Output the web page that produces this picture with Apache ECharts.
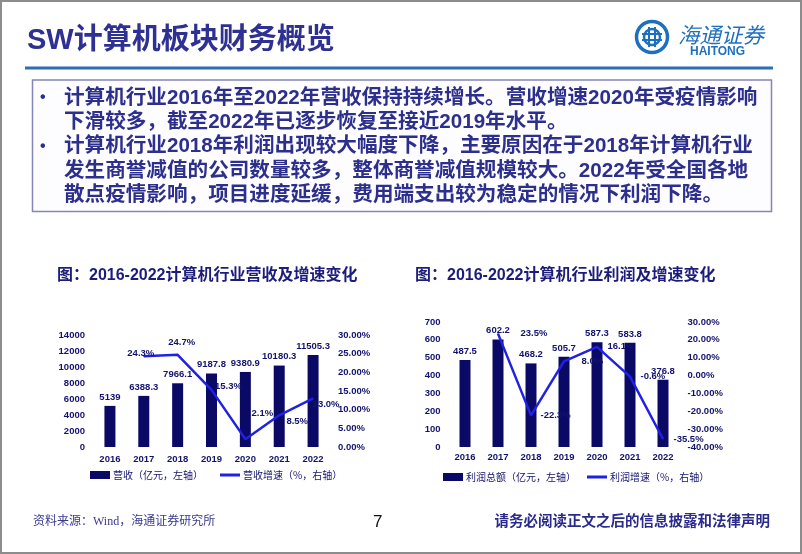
<!DOCTYPE html>
<html><head><meta charset="utf-8">
<script src="https://cdn.jsdelivr.net/npm/echarts@6/dist/echarts.min.js"></script>
<style>html,body{margin:0;padding:0;background:#fff}#c{width:802px;height:554px}</style>
</head><body><div id="c"></div>
<script>
// ---------- data ----------
const years = ['2016', '2017', '2018', '2019', '2020', '2021', '2022'];
const revenue = [5139, 6388.3, 7966.1, 9187.8, 9380.9, 10180.3, 11505.3];
const revenueGrowth = [null, 24.3, 24.7, 15.3, 2.1, 8.5, 13.0];
const profit = [487.5, 602.2, 468.2, 505.7, 587.3, 583.8, 376.8];
const profitGrowth = [null, 23.5, -22.3, 8.0, 16.1, -0.6, -35.5];
const revenueAxis = { min: 0, max: 14000, interval: 2000 };
const revenueGrowthAxis = { min: 0, max: 30, interval: 5 };
const profitAxis = { min: 0, max: 700, interval: 100 };
const profitGrowthAxis = { min: -40, max: 30, interval: 10 };
const legendNames = ['营收（亿元，左轴）', '营收增速（%，右轴）', '利润总额（亿元，左轴）', '利润增速（%，右轴）'];
const chartTitles = ['图：2016-2022计算机行业营收及增速变化', '图：2016-2022计算机行业利润及增速变化'];
const pageTitle = 'SW计算机板块财务概览';
const bodyLines = [
  { bullet: true, text: '计算机行业2016年至2022年营收保持持续增长。营收增速2020年受疫情影响' },
  { bullet: false, text: '下滑较多，截至2022年已逐步恢复至接近2019年水平。' },
  { bullet: true, text: '计算机行业2018年利润出现较大幅度下降，主要原因在于2018年计算机行业' },
  { bullet: false, text: '发生商誉减值的公司数量较多，整体商誉减值规模较大。2022年受全国各地' },
  { bullet: false, text: '散点疫情影响，项目进度延缓，费用端支出较为稳定的情况下利润下降。' }
];
const sourceText = '资料来源：Wind，海通证券研究所';
const pageNo = '7';
const disclaimer = '请务必阅读正文之后的信息披露和法律声明';

// ---------- label placement (style only) ----------
const revGrowthLabelOffset = [null, [-3, -3], [4, -12], [17, -4], [17, -26], [18, 6], [13, 5.5]];
const profGrowthLabelDist = [null, 22, 9, 17, 10, 10, 10];

// ---------- styles ----------
const NUM = 'Liberation Sans, Arial, "Noto Sans CJK SC", sans-serif';
const NAVY = '#13136e';
const BAR = '#0a0a66';
const LINE = '#2121e3';
const TXT = '#2d2f8c';
const LINE_ICON = 'path://M0,0H20V3H0Z';

const chart = echarts.init(document.getElementById('c'), null, { renderer: 'canvas' });

function txt(text, x, y, size, opts) {
  opts = opts || {};
  return {
    type: 'text', x: x, y: y, z: 10,
    style: {
      text: text, fill: opts.fill || TXT, fontSize: size, fontWeight: opts.weight || 'bold',
      fontFamily: opts.family || NUM, fontStyle: opts.style || 'normal',
      align: opts.align || 'left', verticalAlign: 'middle'
    }
  };
}

const graphics = [
  { type: 'rect', shape: { x: 1, y: 1, width: 800, height: 552 }, style: { fill: 'none', stroke: '#8c8c8c', lineWidth: 2 } },
  txt(pageTitle, 27, 41, 29, { fill: '#2e3192' }),
  { type: 'rect', shape: { x: 25, y: 66.5, width: 748, height: 3 }, style: { fill: '#2f6db4' } },
  // logo emblem
  { type: 'circle', shape: { cx: 652, cy: 37, r: 15.5 }, style: { fill: 'none', stroke: '#1f6fbf', lineWidth: 3.5 } },
  { type: 'circle', shape: { cx: 652, cy: 37, r: 8 }, style: { fill: 'none', stroke: '#1f6fbf', lineWidth: 2.5 } },
  { type: 'line', shape: { x1: 649, y1: 27, x2: 649, y2: 47 }, style: { stroke: '#1f6fbf', lineWidth: 2 } },
  { type: 'line', shape: { x1: 655, y1: 27, x2: 655, y2: 47 }, style: { stroke: '#1f6fbf', lineWidth: 2 } },
  { type: 'line', shape: { x1: 642, y1: 34, x2: 662, y2: 34 }, style: { stroke: '#1f6fbf', lineWidth: 2 } },
  { type: 'line', shape: { x1: 642, y1: 40, x2: 662, y2: 40 }, style: { stroke: '#1f6fbf', lineWidth: 2 } },
  txt('海通证券', 678, 35, 21.5, { fill: '#1f6fbf', style: 'italic', weight: 'normal', family: '"Noto Sans CJK SC", sans-serif' }),
  txt('HAITONG', 690, 52, 12, { fill: '#1f6fbf' }),
  // text box
  { type: 'rect', shape: { x: 32.5, y: 80, width: 739, height: 131.5 }, style: { fill: '#fdfdff', stroke: '#8585b8', lineWidth: 1.5 } },
  txt(chartTitles[0], 57, 276, 16, { fill: '#1c1c7a' }),
  txt(chartTitles[1], 415, 276, 16, { fill: '#1c1c7a' }),
  txt(sourceText, 33, 522, 12, { fill: '#3a3a8f', weight: 'normal', family: 'Liberation Serif, "Noto Sans CJK SC", serif' }),
  txt(pageNo, 373, 522, 17, { fill: '#111', weight: 'normal' }),
  txt(disclaimer, 770, 522, 14.5, { fill: '#2b2b8c', align: 'right' })
];
const lineYs = [98, 122, 146.5, 171, 195];
bodyLines.forEach((l, i) => {
  if (l.bullet) graphics.push(txt('•', 40, lineYs[i], 16, { fill: TXT }));
  graphics.push(txt(l.text, 64, lineYs[i], 20.6, { fill: TXT }));
});

const axisLabelStyle = { color: NAVY, fontWeight: 'bold', fontSize: 9.5, fontFamily: NUM };

function yAxis(grid, cfg, pos, fmt) {
  return {
    type: 'value', gridIndex: grid, position: pos, min: cfg.min, max: cfg.max, interval: cfg.interval,
    axisLine: { show: false }, axisTick: { show: false }, splitLine: { show: false },
    axisLabel: Object.assign({ margin: 8, formatter: fmt }, axisLabelStyle)
  };
}
function xAxis(grid, margin) {
  return {
    type: 'category', gridIndex: grid, data: years,
    axisLine: { show: false }, axisTick: { show: false }, splitLine: { show: false },
    axisLabel: Object.assign({ margin: margin }, axisLabelStyle)
  };
}
const pct = v => v.toFixed(2) + '%';

const legendText = { color: NAVY, fontSize: 10, fontFamily: '"Noto Sans CJK SC", sans-serif', padding: [0, 0, 0, -2] };

const option = {
  animation: false,
  backgroundColor: '#fff',
  graphic: graphics,
  grid: [
    { left: 93, top: 335, width: 237, height: 112, containLabel: false, outerBoundsMode: 'none' },
    { left: 448.5, top: 322, width: 231, height: 125, containLabel: false, outerBoundsMode: 'none' }
  ],
  xAxis: [xAxis(0, 8), xAxis(1, 6)],
  yAxis: [
    yAxis(0, revenueAxis, 'left', v => String(v)),
    yAxis(0, revenueGrowthAxis, 'right', pct),
    yAxis(1, profitAxis, 'left', v => String(v)),
    yAxis(1, profitGrowthAxis, 'right', pct)
  ],
  legend: [
    {
      left: 90, top: 470, itemWidth: 20, itemHeight: 8, itemGap: 17, padding: 0, symbolKeepAspect: true,
      data: [{ name: legendNames[0], icon: 'rect' }, { name: legendNames[1], icon: LINE_ICON }],
      textStyle: legendText
    },
    {
      left: 443, top: 472, itemWidth: 20, itemHeight: 8, itemGap: 11, padding: 0, symbolKeepAspect: true,
      data: [{ name: legendNames[2], icon: 'rect' }, { name: legendNames[3], icon: LINE_ICON }],
      textStyle: legendText
    }
  ],
  series: [
    {
      name: legendNames[0], type: 'bar', xAxisIndex: 0, yAxisIndex: 0, data: revenue, barWidth: 11,
      itemStyle: { color: BAR },
      label: { show: true, position: 'top', distance: 4, color: NAVY, fontWeight: 'bold', fontSize: 9.5, fontFamily: NUM, formatter: p => String(p.value) }
    },
    {
      name: legendNames[1], type: 'line', xAxisIndex: 0, yAxisIndex: 1,
      data: revenueGrowth.map((v, i) => v == null ? '-' : { value: v, label: { offset: revGrowthLabelOffset[i] } }),
      symbol: 'circle', symbolSize: 1, showSymbol: true, connectNulls: false,
      lineStyle: { color: LINE, width: 2.5 }, itemStyle: { color: LINE },
      label: { show: true, position: 'inside', color: NAVY, fontWeight: 'bold', fontSize: 9.5, fontFamily: NUM, formatter: p => p.value.toFixed(1) + '%' }
    },
    {
      name: legendNames[2], type: 'bar', xAxisIndex: 1, yAxisIndex: 2, data: profit, barWidth: 11,
      itemStyle: { color: BAR },
      label: { show: true, position: 'top', distance: 4, color: NAVY, fontWeight: 'bold', fontSize: 9.5, fontFamily: NUM, formatter: p => String(p.value) }
    },
    {
      name: legendNames[3], type: 'line', xAxisIndex: 1, yAxisIndex: 3,
      data: profitGrowth.map((v, i) => v == null ? '-' : { value: v, label: { distance: profGrowthLabelDist[i] } }),
      symbol: 'circle', symbolSize: 1, showSymbol: true,
      lineStyle: { color: LINE, width: 2.5 }, itemStyle: { color: LINE },
      label: { show: true, position: 'right', color: NAVY, fontWeight: 'bold', fontSize: 9.5, fontFamily: NUM, formatter: p => p.value.toFixed(1) + '%' }
    }
  ]
};
chart.setOption(option);
</script>
</body></html>
